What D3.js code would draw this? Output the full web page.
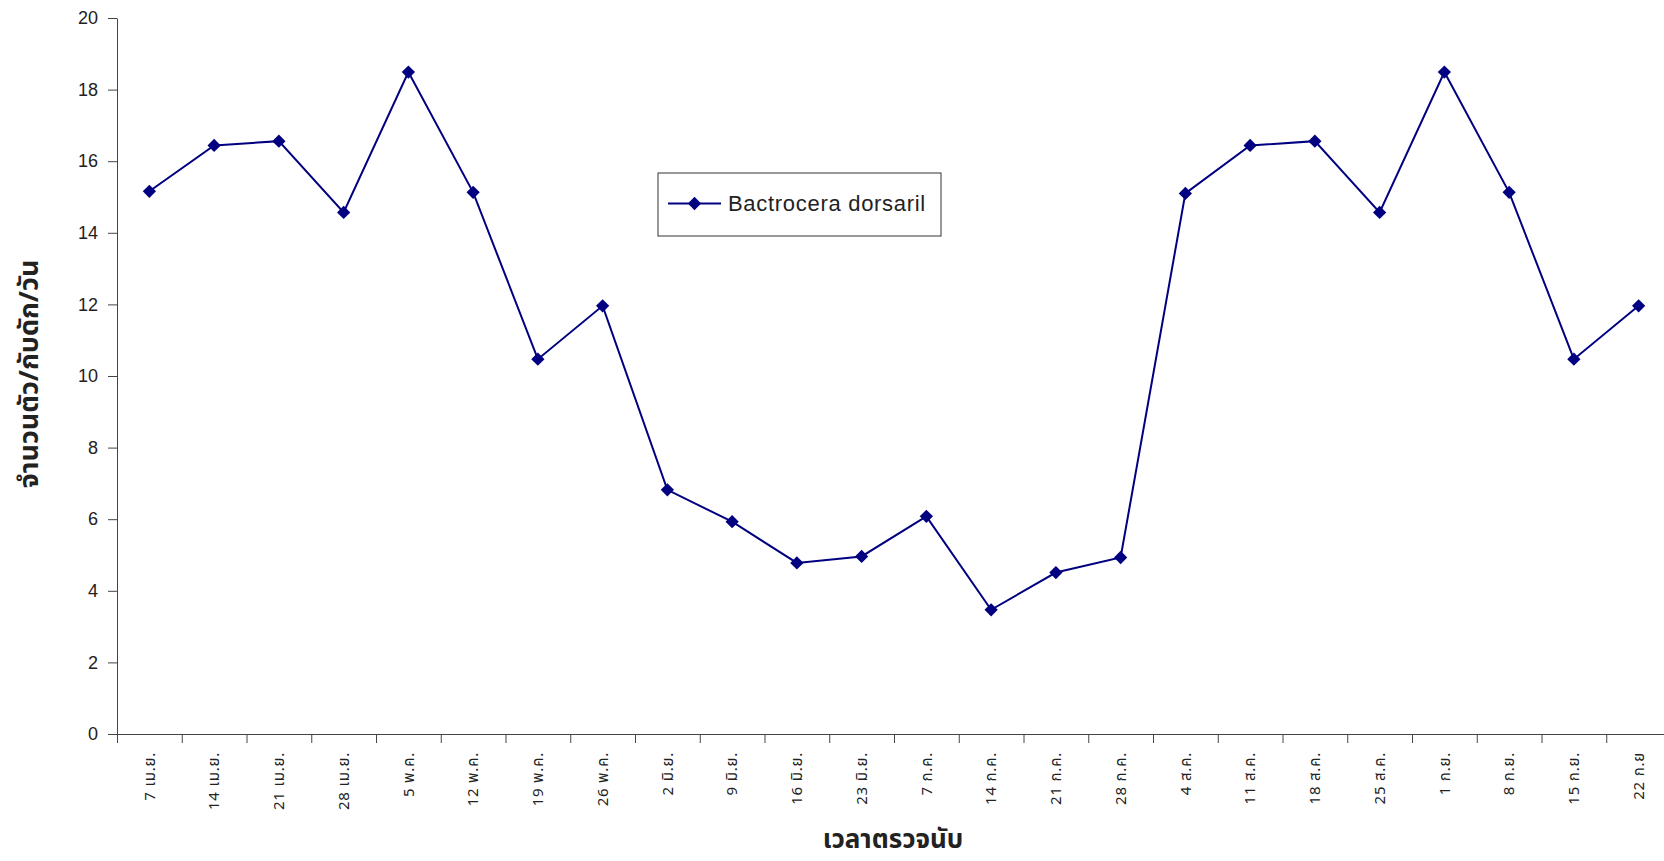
<!DOCTYPE html>
<html>
<head>
<meta charset="utf-8">
<script src="https://cdn.jsdelivr.net/npm/d3@7"></script>
<style>
  body { margin: 0; background: #fff; }
  svg { display: block; }
  text { font-family: "Noto Sans Thai", "Liberation Sans", Arial, "Noto Sans", sans-serif; fill: #222; }
</style>
</head>
<body>
<svg id="chart" width="1664" height="861"></svg>
<script>
// Datos del gráfico
const fechas = [
    "7 เม.ย.", "14 เม.ย.", "21 เม.ย.", "28 เม.ย.",
    "5 พ.ค.", "12 พ.ค.", "19 พ.ค.", "26 พ.ค.",
    "2 มิ.ย.", "9 มิ.ย.", "16 มิ.ย.", "23 มิ.ย.",
    "7 ก.ค.", "14 ก.ค.", "21 ก.ค.", "28 ก.ค.",
    "4 ส.ค.", "11 ส.ค.", "18 ส.ค.", "25 ส.ค.",
    "1 ก.ย.", "8 ก.ย.", "15 ก.ย.", "22 ก.ย"
];
const valores = [
    15.16, 16.44, 16.56, 14.57,
    18.49, 15.13, 10.47, 11.96,
    6.82, 5.93, 4.78, 4.96,
    6.08, 3.47, 4.51, 4.93,
    15.10, 16.44, 16.56, 14.57,
    18.49, 15.13, 10.47, 11.96
];
const ticksY = [0, 2, 4, 6, 8, 10, 12, 14, 16, 18, 20];
const nombreSerie = "Bactrocera dorsaril";
const tituloY = "จำนวนตัว/กับดัก/วัน";
const tituloX = "เวลาตรวจนับ";

const svg = d3.select("#chart");
const margin = { left: 117, top: 18, bottom: 127 };
const plotW = 64.75 * fechas.length;
const height = 861;

const x = d3.scaleBand()
    .domain(fechas)
    .range([margin.left, margin.left + plotW])
    .padding(0);

// límites entre categorías para las marcas
const xLim = d3.scaleLinear()
    .domain([0, fechas.length])
    .range([margin.left, margin.left + plotW]);

const y = d3.scaleLinear()
    .domain([0, 20])
    .range([height - margin.bottom, margin.top]);

const color = "#000080";

// Eje Y
const ejeY = svg.append("g")
    .attr("transform", `translate(${margin.left},0)`)
    .call(d3.axisLeft(y).tickValues(ticksY).tickSize(9).tickPadding(10).tickSizeOuter(0));
ejeY.selectAll("text").style("font-size", "18px").style("font-family", "'Liberation Sans', Arial, sans-serif");
ejeY.select(".domain").attr("stroke", "#444");
ejeY.selectAll(".tick line").attr("stroke", "#444");

// Eje X: marcas en los límites
const ejeXlim = svg.append("g")
    .attr("transform", `translate(0,${y(0)})`)
    .call(d3.axisBottom(xLim).tickValues(d3.range(0, fechas.length + 1)).tickSize(9).tickFormat("").tickSizeOuter(0));
ejeXlim.select(".domain").attr("stroke", "#444");
ejeXlim.selectAll(".tick line").attr("stroke", "#444");

// Etiquetas de fechas
const ejeX = svg.append("g")
    .attr("transform", `translate(0,${y(0)})`)
    .call(d3.axisBottom(x).tickSize(0).tickPadding(0));
ejeX.select(".domain").remove();
ejeX.selectAll("text")
    .attr("transform", "rotate(-90)")
    .attr("x", -18)
    .attr("y", 0)
    .attr("dy", "0.35em")
    .attr("text-anchor", "end")
    .style("font-size", "15px")
    .style("letter-spacing", "0.8px");

// Línea
const linea = d3.line()
    .x((d, i) => x(fechas[i]) + x.bandwidth() / 2)
    .y(d => y(d));

svg.append("path")
    .datum(valores)
    .attr("fill", "none")
    .attr("stroke", color)
    .attr("stroke-width", 2)
    .attr("d", linea);

// Marcadores (rombos)
const rombo = d3.symbol().type(d3.symbolSquare).size(88);
svg.selectAll(".punto")
    .data(valores)
    .join("path")
    .attr("class", "punto")
    .attr("d", rombo)
    .attr("transform", (d, i) => `translate(${x(fechas[i]) + x.bandwidth() / 2},${y(d)}) rotate(45)`)
    .attr("fill", color);

// Títulos de ejes
svg.append("text")
    .attr("transform", `translate(38,${374}) rotate(-90)`)
    .attr("text-anchor", "middle")
    .style("font-size", "27px")
    .style("font-weight", "bold")
    .text(tituloY);

svg.append("text")
    .attr("x", 893)
    .attr("y", 848)
    .attr("text-anchor", "middle")
    .style("font-size", "26px")
    .style("font-weight", "bold")
    .text(tituloX);

// Leyenda
const leyenda = svg.append("g").attr("transform", "translate(658,173)");
leyenda.append("rect")
    .attr("width", 283).attr("height", 63)
    .attr("fill", "#fff")
    .attr("stroke", "#333")
    .attr("stroke-width", 1);
leyenda.append("line")
    .attr("x1", 10).attr("x2", 63)
    .attr("y1", 30.5).attr("y2", 30.5)
    .attr("stroke", color).attr("stroke-width", 2);
leyenda.append("path")
    .attr("d", rombo)
    .attr("transform", "translate(36.5,30.5) rotate(45)")
    .attr("fill", color);
leyenda.append("text")
    .attr("x", 70).attr("y", 30.5)
    .attr("dy", "0.35em")
    .style("font-size", "22px")
    .style("letter-spacing", "0.7px")
    .style("font-family", "'Liberation Sans', Arial, sans-serif")
    .text(nombreSerie);
</script>
</body>
</html>
